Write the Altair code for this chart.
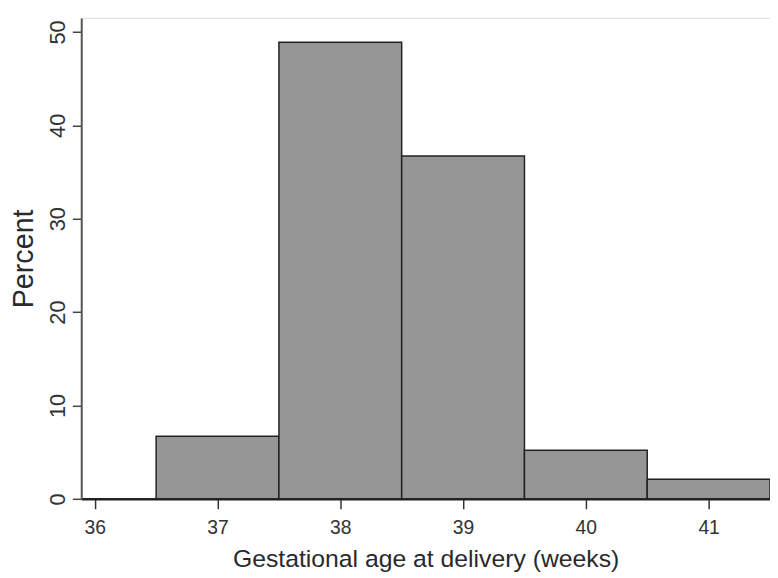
import altair as alt
import pandas as pd

weeks = [37, 38, 39, 40, 41]
percent = [6.7, 48.9, 36.7, 5.2, 2.1]
x_ticks = [36, 37, 38, 39, 40, 41]
y_ticks = [0, 10, 20, 30, 40, 50]

df = pd.DataFrame({"week": weeks, "percent": percent})

FONT = "Liberation Sans"

chart = (
    alt.Chart(df)
    .transform_calculate(start="datum.week - 0.5", end="datum.week + 0.5", base="0")
    .mark_bar(fill="#969696", stroke="#222222", strokeWidth=1.5)
    .encode(
        x=alt.X(
            "start:Q",
            scale=alt.Scale(domain=[35.89, 41.5], nice=False, zero=False),
            axis=alt.Axis(
                values=x_ticks,
                title="Gestational age at delivery (weeks)",
                grid=False,
                domainColor="#222222",
                domainWidth=2.5,
                tickColor="#333333",
                tickWidth=1.5,
                tickSize=10,
                labelFont=FONT,
                labelFontSize=19.5,
                labelColor="#333333",
                labelPadding=10,
                labelFlush=False,
                titleFont=FONT,
                titleFontSize=25,
                titleFontWeight="normal",
                titleColor="#2a2a2a",
                titleBaseline="alphabetic",
                titleY=68,
            ),
        ),
        x2="end:Q",
        y=alt.Y(
            "percent:Q",
            scale=alt.Scale(domain=[0, 51.5], nice=False),
            axis=alt.Axis(
                values=y_ticks,
                title="Percent",
                grid=False,
                domainColor="#555555",
                domainWidth=2,
                tickColor="#444444",
                tickWidth=1.5,
                tickSize=9,
                labelAngle=270,
                labelAlign="center",
                labelBaseline="middle",
                labelPadding=15,
                labelFont=FONT,
                labelFontSize=22,
                labelColor="#333333",
                labelFlush=False,
                titleFont=FONT,
                titleFontSize=29,
                titleFontWeight="normal",
                titleColor="#2a2a2a",
                titleAngle=270,
                titleAlign="center",
                titleBaseline="middle",
                titleX=-58.5,
                titleY=243,
            ),
        ),
        y2="base:Q",
    )
    .properties(
        width=696,
        height=486,
        autosize=alt.AutoSizeParams(type="none"),
        padding={"left": 74, "top": 7, "right": 0, "bottom": 76},
    )
    .configure_view(stroke=None)
    .configure(background="white")
)

chart.save("out.html", embed_options={"renderer": "svg", "actions": False})
